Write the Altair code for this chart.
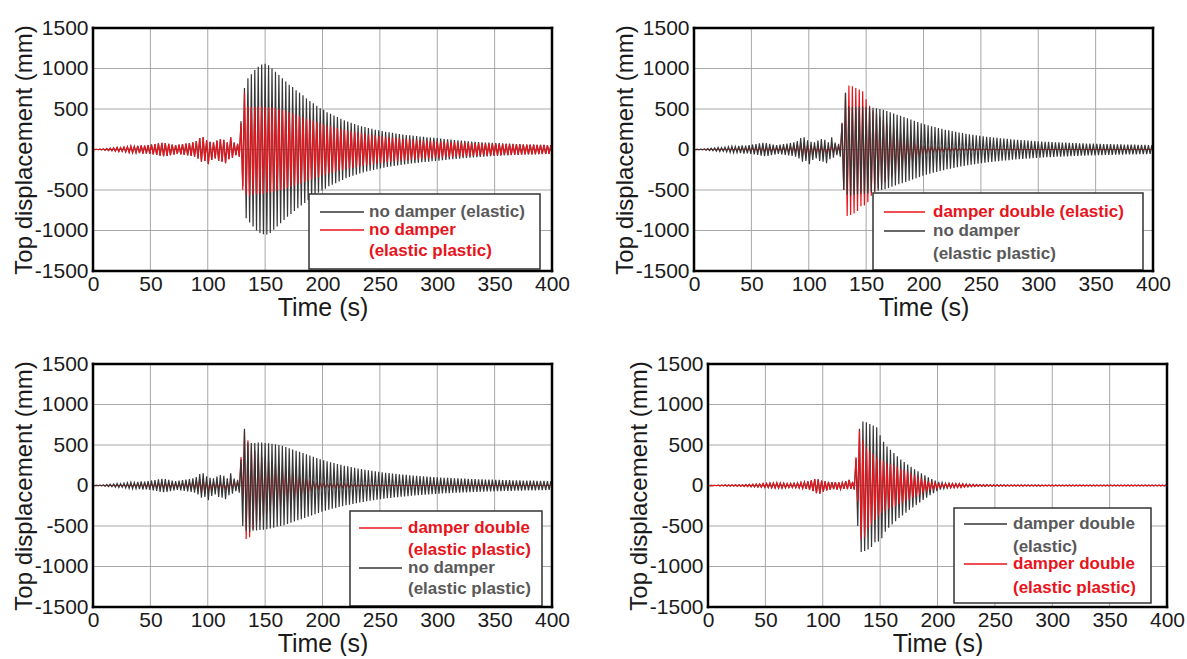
import altair as alt
import pandas as pd

# ---------------- data ----------------
# one oscillation cycle every 3 s: peak (hi) and trough (lo) of each cycle, in mm
t = list(range(0, 400, 3))  # 134 cycles, 0 .. 399 s

x_ticks = [0, 50, 100, 150, 200, 250, 300, 350, 400]
y_ticks = [-1500, -1000, -500, 0, 500, 1000, 1500]

# shared early part (before yielding), no damper
E1_hi = [2, 3, 5, 8, 12, 15, 20, 25, 22, 30,
         35, 40, 38, 45, 50, 48, 55, 62, 68, 75,
         82, 78, 70, 62, 55, 60, 66, 72, 78, 88,
         105, 140, 150, 115, 95, 90, 110, 130, 120, 90,
         150, 85, 70]
E1_lo = [-2, -3, -5, -8, -12, -15, -20, -25, -22, -30,
         -35, -40, -38, -45, -50, -48, -55, -62, -68, -75,
         -82, -78, -70, -62, -55, -60, -66, -72, -78, -88,
         -110, -150, -140, -180, -130, -110, -140, -150, -170, -120,
         -100, -70, -90]
# shared early part, damper double
E2_hi = [1, 2, 3, 4, 5, 6, 6, 7, 8, 9,
         10, 12, 14, 16, 18, 20, 22, 25, 28, 30,
         32, 30, 28, 25, 24, 26, 30, 36, 42, 50,
         65, 80, 75, 60, 50, 45, 40, 42, 38, 35,
         55, 70, 45]
E2_lo = [-1, -2, -3, -4, -5, -6, -6, -7, -8, -9,
         -10, -12, -14, -16, -18, -20, -22, -25, -28, -30,
         -32, -30, -28, -25, -24, -26, -30, -36, -42, -50,
         -70, -95, -100, -75, -60, -50, -45, -50, -45, -40,
         -45, -40, -50]

# no damper (elastic), 129 .. 399 s
A_hi_late = [350, 760, 880, 930, 980, 1020, 1050, 1060, 1040, 1000,
             960, 920, 880, 840, 800, 770, 730, 700, 670, 630,
             600, 570, 540, 510, 490, 460, 440, 420, 400, 380,
             360, 345, 330, 315, 300, 288, 276, 265, 255, 245,
             236, 228, 220, 212, 205, 198, 192, 186, 180, 175,
             170, 165, 160, 156, 152, 148, 144, 140, 135, 130,
             126, 122, 118, 114, 110, 106, 102, 99, 96, 93,
             90, 87, 84, 82, 80, 78, 76, 74, 72, 70,
             68, 66, 64, 62, 61, 60, 58, 57, 56, 55,
             54]
A_lo_late = [-450, -850, -900, -950, -1000, -1030, -1045, -1050, -1030, -990,
             -950, -910, -870, -830, -795, -760, -725, -690, -660, -625,
             -595, -565, -535, -505, -485, -455, -435, -415, -395, -375,
             -355, -340, -325, -310, -296, -284, -272, -262, -252, -242,
             -233, -225, -217, -210, -203, -196, -190, -184, -178, -173,
             -168, -163, -158, -154, -150, -146, -142, -138, -133, -128,
             -124, -120, -116, -112, -108, -104, -100, -97, -94, -91,
             -88, -85, -82, -80, -78, -76, -74, -72, -70, -68,
             -66, -64, -62, -60, -59, -58, -56, -55, -54, -53,
             -52]
# no damper (elastic plastic)
B_hi_late = [320, 700, 530, 525, 525, 530, 530, 525, 520, 515,
             510, 500, 490, 475, 460, 445, 430, 415, 400, 385,
             370, 355, 340, 325, 312, 300, 288, 276, 265, 255,
             245, 236, 227, 218, 210, 202, 195, 188, 181, 175,
             169, 163, 158, 153, 148, 143, 139, 135, 131, 127,
             123, 119, 116, 113, 110, 107, 104, 101, 98, 96,
             94, 92, 90, 88, 86, 84, 82, 80, 78, 77,
             76, 74, 73, 72, 70, 69, 68, 67, 66, 65,
             64, 63, 62, 61, 60, 59, 58, 57, 56, 55,
             54]
B_lo_late = [-500, -560, -570, -560, -555, -550, -545, -540, -530, -520,
             -510, -500, -490, -475, -460, -445, -430, -415, -400, -385,
             -370, -355, -340, -325, -312, -300, -288, -276, -265, -255,
             -245, -236, -227, -218, -210, -202, -195, -188, -181, -175,
             -169, -163, -158, -153, -148, -143, -139, -135, -131, -127,
             -123, -119, -116, -113, -110, -107, -104, -101, -98, -96,
             -94, -92, -90, -88, -86, -84, -82, -80, -78, -77,
             -76, -74, -73, -72, -70, -69, -68, -67, -66, -65,
             -64, -63, -62, -61, -60, -59, -58, -57, -56, -55,
             -54]
# damper double (elastic)
C_hi_late = [330, 700, 790, 780, 760, 740, 720, 620, 540, 480,
             440, 400, 360, 320, 290, 260, 230, 200, 175, 150,
             125, 100, 80, 60, 45, 35, 30, 28, 25, 22,
             20, 20, 18, 16, 14, 12, 11, 10, 10, 9,
             9, 8, 8, 8, 7, 7, 7, 7, 6, 6,
             6, 6, 6, 6, 5, 5, 5, 5, 5, 5,
             5, 5, 5, 5, 5, 5, 5, 5, 5, 5,
             5, 5, 5, 5, 5, 5, 5, 5, 5, 5,
             5, 5, 5, 5, 5, 5, 5, 5, 5, 5,
             5]
C_lo_late = [-500, -820, -810, -790, -760, -700, -690, -650, -570, -520,
             -480, -440, -400, -370, -335, -300, -270, -240, -210, -180,
             -150, -120, -95, -70, -50, -38, -32, -28, -25, -22,
             -20, -20, -18, -16, -14, -12, -11, -10, -10, -9,
             -9, -8, -8, -8, -7, -7, -7, -7, -6, -6,
             -6, -6, -6, -6, -5, -5, -5, -5, -5, -5,
             -5, -5, -5, -5, -5, -5, -5, -5, -5, -5,
             -5, -5, -5, -5, -5, -5, -5, -5, -5, -5,
             -5, -5, -5, -5, -5, -5, -5, -5, -5, -5,
             -5]
# damper double (elastic plastic)
D_hi_late = [350, 680, 560, 480, 430, 390, 350, 320, 300, 280,
             265, 250, 230, 210, 190, 170, 150, 130, 110, 90,
             70, 55, 40, 30, 22, 18, 20, 25, 25, 22,
             25, 20, 15, 12, 10, 8, 8, 7, 7, 6,
             6, 6, 5, 5, 5, 5, 5, 5, 5, 5,
             5, 5, 5, 5, 4, 4, 4, 4, 4, 4,
             4, 4, 4, 4, 4, 4, 4, 4, 4, 4,
             4, 4, 4, 4, 4, 4, 4, 4, 4, 4,
             4, 4, 4, 4, 4, 4, 4, 4, 4, 4,
             4]
D_lo_late = [-200, -660, -640, -540, -480, -430, -380, -340, -310, -290,
             -270, -255, -235, -215, -195, -175, -155, -135, -115, -95,
             -75, -58, -42, -32, -24, -20, -22, -26, -26, -24,
             -26, -22, -16, -12, -10, -8, -8, -7, -7, -6,
             -6, -6, -5, -5, -5, -5, -5, -5, -5, -5,
             -5, -5, -5, -5, -4, -4, -4, -4, -4, -4,
             -4, -4, -4, -4, -4, -4, -4, -4, -4, -4,
             -4, -4, -4, -4, -4, -4, -4, -4, -4, -4,
             -4, -4, -4, -4, -4, -4, -4, -4, -4, -4,
             -4]

legend_TL = ["no damper (elastic)", "no damper", "(elastic plastic)"]
legend_TR = ["damper double (elastic)", "no damper", "(elastic plastic)"]
legend_BL = ["damper double", "(elastic plastic)", "no damper", "(elastic plastic)"]
legend_BR = ["damper double", "(elastic)", "damper double", "(elastic plastic)"]

# ---------------- build ----------------
A_hi, A_lo = E1_hi + A_hi_late, E1_lo + A_lo_late
B_hi, B_lo = E1_hi + B_hi_late, E1_lo + B_lo_late
C_hi, C_lo = E2_hi + C_hi_late, E2_lo + C_lo_late
D_hi, D_lo = E2_hi + D_hi_late, E2_lo + D_lo_late
for s in (A_hi, A_lo, B_hi, B_lo, C_hi, C_lo, D_hi, D_lo):
    assert len(s) == len(t), len(s)


def cycles(hi, lo):
    rows = []
    for ti, h, l in zip(t, hi, lo):
        rows.append({"t": ti, "y": h})
        rows.append({"t": ti + 1.5, "y": l})
    return pd.DataFrame(rows)


dfA, dfB, dfC, dfD = cycles(A_hi, A_lo), cycles(B_hi, B_lo), cycles(C_hi, C_lo), cycles(D_hi, D_lo)

BLACK = "#363636"
RED = "#e8141c"
GRAYTXT = "#595959"
GRID = "#a8a8a8"
FONT = "Liberation Sans"
W, H = 459, 243

XS = alt.Scale(domain=[0, 400], nice=False, zero=False)
YS = alt.Scale(domain=[-1500, 1500], nice=False)

xaxis = alt.Axis(values=x_ticks, title="Time (s)", grid=False, ticks=False, domain=False,
                 labelFontSize=21, labelPadding=2, labelColor="#1a1a1a", labelFont=FONT,
                 titleFontSize=25, titlePadding=1, titleColor="#1a1a1a", titleFont=FONT,
                 titleFontWeight="normal", labelFlush=False, labelOverlap=False, zindex=0)
yaxis = alt.Axis(values=y_ticks, title="Top displacement (mm)", grid=False, ticks=False, domain=False,
                 labelFontSize=21, labelPadding=5, labelColor="#1a1a1a", labelFont=FONT,
                 labelExpr="'' + datum.value",
                 titleFontSize=24, titleColor="#1a1a1a", titleFont=FONT, titleFontWeight="normal",
                 titleX=-62, titleY=H / 2, titleAngle=270, titleAlign="center",
                 titleBaseline="alphabetic", labelFlush=False, labelOverlap=False, zindex=0)

dummy = pd.DataFrame({"a": [0]})
xgrid_df = pd.DataFrame({"x": x_ticks})
ygrid_df = pd.DataFrame({"y": y_ticks})


def grid_layers():
    return [
        alt.Chart(xgrid_df).mark_rule(color=GRID, strokeWidth=1).encode(
            x=alt.X("x:Q", scale=XS, axis=xaxis)),
        alt.Chart(ygrid_df).mark_rule(color=GRID, strokeWidth=1).encode(
            y=alt.Y("y:Q", scale=YS, axis=yaxis)),
    ]


def series_layer(df, color):
    return alt.Chart(df).mark_line(color=color, strokeWidth=1.2).encode(
        x=alt.X("t:Q", scale=XS, axis=xaxis),
        y=alt.Y("y:Q", scale=YS, axis=yaxis),
    )


def legend_layers(box, lines, texts):
    x0, x1, y0, y1 = box
    out = [alt.Chart(dummy).mark_rect(fill="white", stroke="#333333", strokeWidth=1.5).encode(
        x=alt.value(x0), x2=alt.value(x1), y=alt.value(y0), y2=alt.value(y1))]
    for lx0, lx1, ly, c in lines:
        out.append(alt.Chart(dummy).mark_rule(color=c, strokeWidth=1.5).encode(
            x=alt.value(lx0), x2=alt.value(lx1), y=alt.value(ly)))
    for tx, ty, s, c in texts:
        out.append(alt.Chart(dummy).mark_text(align="left", baseline="middle", font=FONT,
                                              fontSize=17, fontWeight="bold", color=c).encode(
            x=alt.value(tx), y=alt.value(ty), text=alt.value(s)))
    return out


def frame_layers():
    rule = alt.Chart(dummy).mark_rule(color="#000000", strokeWidth=2.5, strokeCap="square")
    return [
        rule.encode(x=alt.value(0), x2=alt.value(W), y=alt.value(0)),
        rule.encode(x=alt.value(0), x2=alt.value(W), y=alt.value(H)),
        rule.encode(x=alt.value(0), y=alt.value(0), y2=alt.value(H)),
        rule.encode(x=alt.value(W), y=alt.value(0), y2=alt.value(H)),
    ]


def panel(series, box, lines, texts):
    layers = (grid_layers() + [series_layer(df, c) for df, c in series]
              + legend_layers(box, lines, texts) + frame_layers())
    return alt.layer(*layers).properties(width=W, height=H)


TL = panel([(dfA, BLACK), (dfB, RED)],
           (216, 447, 166, 241),
           [(227, 271, 184, BLACK), (227, 271, 202, RED)],
           [(276, 184, legend_TL[0], GRAYTXT), (276, 202, legend_TL[1], RED),
            (276, 223, legend_TL[2], RED)])
TR = panel([(dfC, RED), (dfB, BLACK)],
           (179, 449, 165, 242),
           [(190, 231, 184, RED), (190, 231, 203, BLACK)],
           [(239, 184, legend_TR[0], RED), (239, 203, legend_TR[1], GRAYTXT),
            (239, 226, legend_TR[2], GRAYTXT)])
BL = panel([(dfD, RED), (dfB, BLACK)],
           (257, 449, 147, 242),
           [(266, 309, 164, RED), (266, 309, 204, BLACK)],
           [(315, 164, legend_BL[0], RED), (315, 186, legend_BL[1], RED),
            (315, 204, legend_BL[2], GRAYTXT), (315, 225, legend_BL[3], GRAYTXT)])
BR = panel([(dfC, BLACK), (dfD, RED)],
           (246, 443, 144, 239),
           [(256, 299, 160, BLACK), (256, 299, 200, RED)],
           [(305, 160, legend_BR[0], GRAYTXT), (305, 183, legend_BR[1], GRAYTXT),
            (305, 200, legend_BR[2], RED), (305, 224, legend_BR[3], RED)])

row1 = alt.hconcat(TL, TR, spacing=142, bounds="flush")
row2 = alt.hconcat(BL, BR, spacing=156, bounds="flush")
chart = alt.vconcat(row1, row2, spacing=33).properties(
    padding={"left": 11, "top": 17, "right": 0, "bottom": 0},
    background="white",
).configure(font=FONT).configure_view(strokeWidth=0)

chart.save("out.html", embed_options={"renderer": "svg", "actions": False})
